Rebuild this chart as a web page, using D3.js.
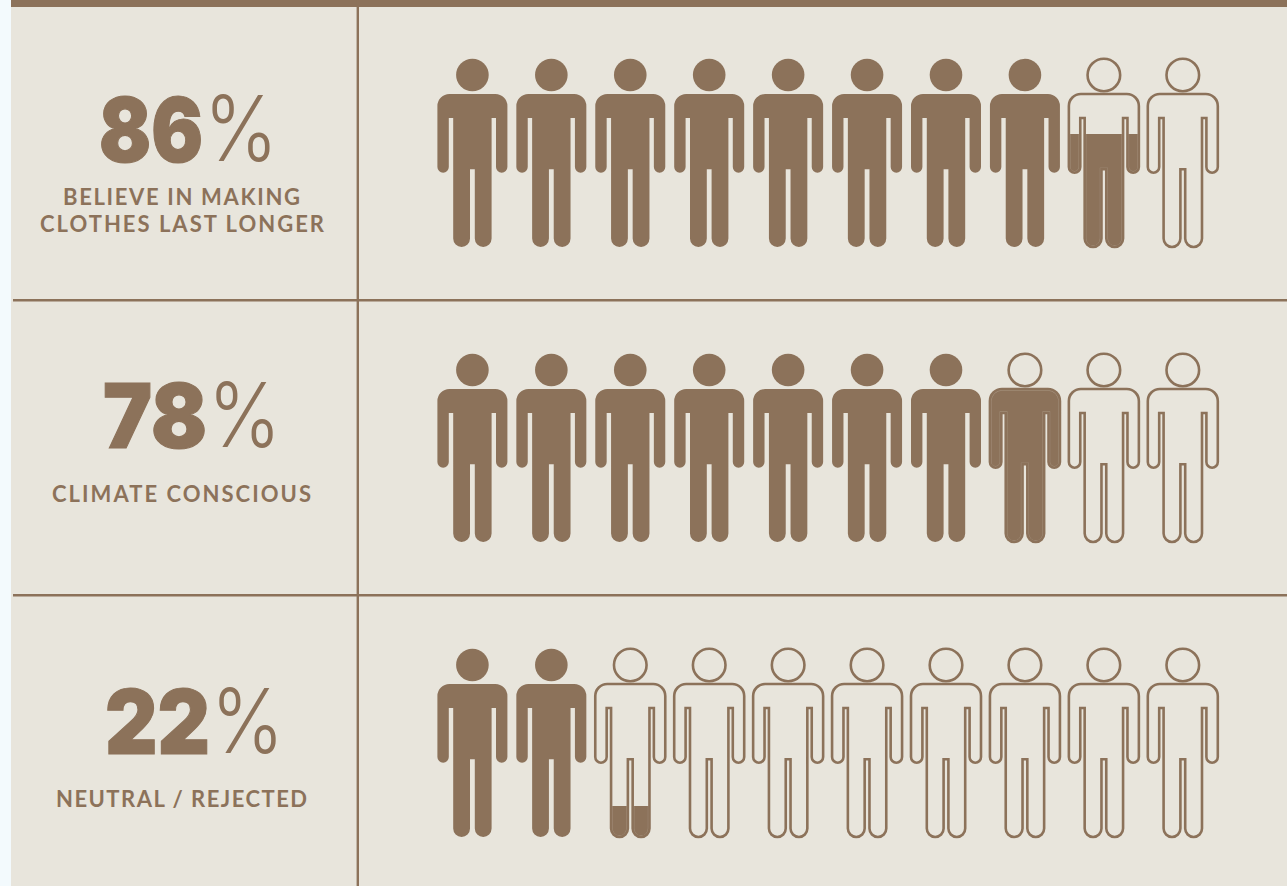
<!DOCTYPE html>
<html>
<head>
<meta charset="utf-8">
<script src="https://cdn.jsdelivr.net/npm/d3@7"></script>
<style>
  html, body { margin: 0; padding: 0; background: #f3fafd; overflow: hidden; }
  svg { display: block; }
</style>
</head>
<body>
<svg id="chart" width="1287" height="886"></svg>
<script>
// Share of respondents per statement; each figure stands for ten percent.
const percentages = [86, 78, 22];
const labelLines = [
  ["BELIEVE IN MAKING", "CLOTHES LAST LONGER"],
  ["CLIMATE CONSCIOUS"],
  ["NEUTRAL / REJECTED"]
];
const figureIndices = d3.range(10);

const brown = "#8c725a";
const panel = "#e8e5dc";
const W = 1287, H = 886;

const svg = d3.select("#chart");
const defs = svg.append("defs");

// Panel, top band and grid rules
svg.append("rect").attr("x", 11).attr("y", 0).attr("width", W - 11).attr("height", H).attr("fill", panel);
svg.append("rect").attr("x", 11).attr("y", 0).attr("width", W - 11).attr("height", 7).attr("fill", brown);
[300.2, 595.2].forEach(y => {
  svg.append("line").attr("x1", 13).attr("x2", W).attr("y1", y).attr("y2", y)
    .attr("stroke", brown).attr("stroke-width", 2.4);
});
svg.append("line").attr("x1", 357.8).attr("x2", 357.8).attr("y1", 0).attr("y2", H)
  .attr("stroke", brown).attr("stroke-width", 2.4);

// Figure placement: column centres and the head centre of each row
const xFigure = d3.scaleLinear().domain([0, 9]).range([472.4, 1182.8]);
const yRow = d3.scaleLinear().domain([0, 2]).range([75, 665]);

// Figure outline, relative to the head centre
const headR = 16.3, footY = 172;
function bodyPath() {
  const p = d3.path();
  p.moveTo(-23, 19);
  p.lineTo(23, 19);
  p.arcTo(35, 19, 35, 31, 12);
  p.lineTo(35, 92);
  p.arc(29.3, 92, 5.7, 0, Math.PI);
  p.lineTo(23.6, 43);
  p.lineTo(19.2, 43);
  p.lineTo(19.2, 163.6);
  p.arc(10.8, 163.6, 8.4, 0, Math.PI);
  p.lineTo(2.4, 94.3);
  p.lineTo(-2.4, 94.3);
  p.lineTo(-2.4, 163.6);
  p.arc(-10.8, 163.6, 8.4, 0, Math.PI);
  p.lineTo(-19.2, 43);
  p.lineTo(-23.6, 43);
  p.lineTo(-23.6, 92);
  p.arc(-29.3, 92, 5.7, 0, Math.PI);
  p.lineTo(-35, 31);
  p.arcTo(-35, 19, -23, 19, 12);
  p.closePath();
  return p.toString();
}
const body = bodyPath();

// Height of the fill inside a partly filled figure
const fillHeight = d3.scaleLinear().domain([0.2, 0.8]).range([32, 155]);

percentages.forEach((pct, r) => {
  const cy = yRow(r);
  const row = svg.append("g");

  const figures = figureIndices.map(i => ({ i, level: Math.max(0, Math.min(1, pct / 10 - i)) }));

  const fig = row.selectAll("g.figure").data(figures).join("g")
    .attr("class", "figure")
    .attr("transform", d => `translate(${xFigure(d.i)},${cy})`);

  fig.each(function (d) {
    const g = d3.select(this);
    if (d.level === 1) {
      g.append("circle").attr("r", headR).attr("fill", brown);
      g.append("path").attr("d", body).attr("fill", brown);
      return;
    }
    if (d.level > 0) {
      const id = `fill-${r}-${d.i}`;
      const h = fillHeight(d.level);
      defs.append("clipPath").attr("id", id).append("rect")
        .attr("x", -40).attr("width", 80)
        .attr("y", footY + 1 - h).attr("height", h + 2);
      const lvl = g.append("g").attr("clip-path", `url(#${id})`);
      lvl.append("path").attr("d", body).attr("fill", brown);
      // Faint seam between the fill and its outline
      lvl.append("path").attr("d", body).attr("fill", "none")
        .attr("stroke", panel).attr("stroke-width", 3.3).attr("stroke-opacity", 0.3);
    }
    g.append("circle").attr("r", headR).attr("fill", "none").attr("stroke", brown).attr("stroke-width", 2.6);
    g.append("path").attr("d", body).attr("fill", "none").attr("stroke", brown).attr("stroke-width", 2.6);
  });
});

// Left-hand captions: large figure, thin percent sign, uppercase label
const bigSpecs = [
  { x: 99, w: 104, px: 204, pw: 74, base: 162 },
  { x: 103, w: 104, px: 208, pw: 73, base: 448 },
  { x: 105, w: 105, px: 211, pw: 73, base: 754 }
];
const labelSpecs = [
  [{ x: 63, w: 237, base: 205 }, { x: 40, w: 284, base: 232 }],
  [{ x: 52, w: 259, base: 502 }],
  [{ x: 56, w: 251, base: 807 }]
];

// Places a text at (x, y) and condenses it horizontally to the given width
function fitted(str, x, y, width, weight) {
  const t = svg.append("text").text(str)
    .attr("font-family", "Inter").attr("font-weight", weight).attr("font-size", 90)
    .attr("fill", brown);
  const k = width / t.node().getComputedTextLength();
  t.attr("transform", `translate(${x},${y}) scale(${k},1)`);
  return t;
}

percentages.forEach((pct, r) => {
  const s = bigSpecs[r];
  fitted(String(pct), s.x, s.base, s.w, 900)
    .attr("stroke", brown).attr("stroke-width", 1.2);
  fitted("%", s.px, s.base - 1, s.pw, 300);
  labelLines[r].forEach((line, j) => {
    const l = labelSpecs[r][j];
    svg.append("text").text(line)
      .attr("x", l.x).attr("y", l.base)
      .attr("textLength", l.w).attr("lengthAdjust", "spacing")
      .attr("font-family", "Lato").attr("font-weight", 700).attr("font-size", 22)
      .attr("fill", brown);
  });
});
</script>
</body>
</html>
